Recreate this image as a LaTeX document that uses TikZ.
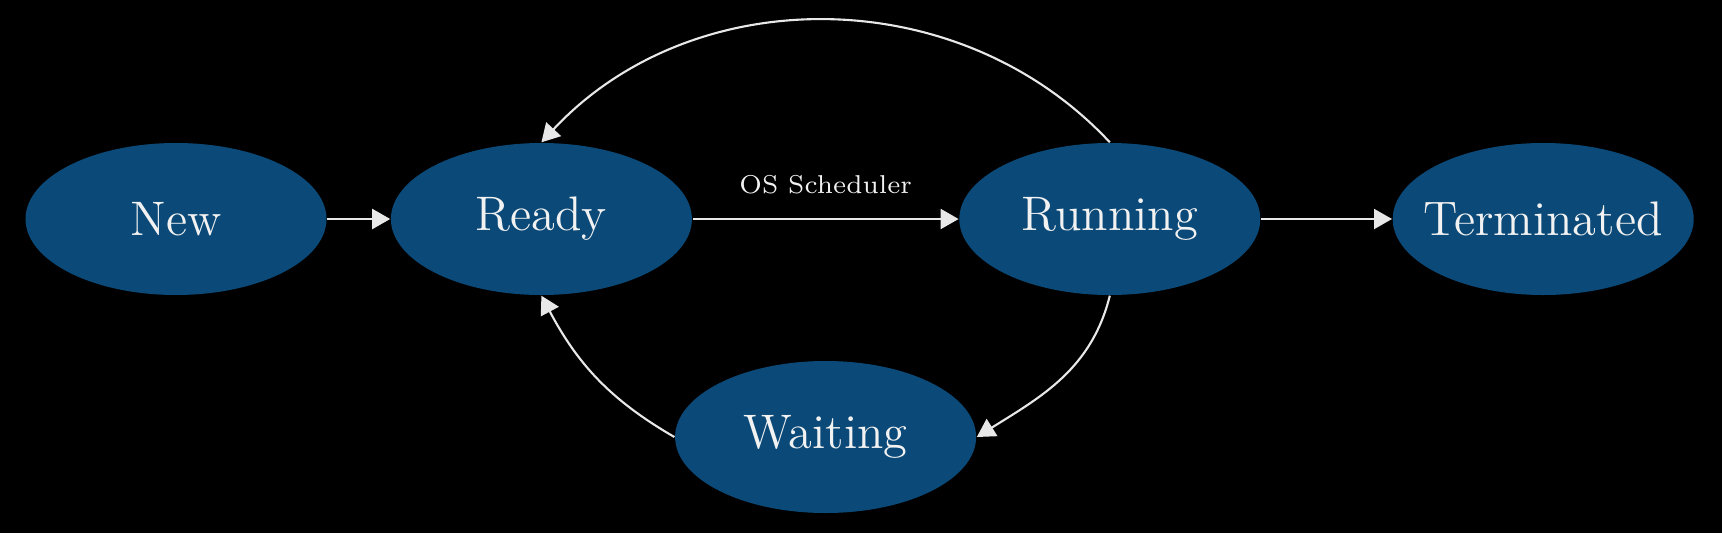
\documentclass[tikz,border=0pt]{standalone}
\usepackage{xcolor}
\usepackage{tikz}
\usetikzlibrary{arrows.meta,positioning,shapes.geometric,calc}
\definecolor{stateblue}{HTML}{0B4A78}
\definecolor{linegray}{HTML}{E8E8E8}

\begin{document}
\begin{tikzpicture}[node distance=6.3mm, every node/.style={text=white!95!black}, state/.style={ellipse, fill=stateblue, inner xsep=-3mm, inner ysep=0pt, minimum width=30.1mm, minimum height=15.2mm, font=\fontsize{13.8}{16}\selectfont}, arr/.style={-{Triangle[length=1.8mm,width=2mm]}, line width=0.6pt, linegray}]
\useasboundingbox (0,0) rectangle (17.22,5.33);
\fill[black] (0,0) rectangle (17.22,5.33);
\node[state] (new) at (1.76,3.14) {New};
\node[state,right=of new] (ready) {Ready};
\node[state,right=26.6mm of ready] (running) {Running};
\node[state,right=13.1mm of running] (terminated) {Terminated};
\node[state] (waiting) at ($(ready)!0.5!(running)+(0,-2.18)$) {Waiting};
\draw[arr] (new)--(ready);
\draw[arr] (ready)--node[above=2.4mm, inner sep=0pt, font=\fontsize{7.35}{9}\selectfont]{OS Scheduler}(running);
\draw[arr] (running)--(terminated);
\draw[arr] (running.north) to[out=133,in=47] (ready.north);
\draw[arr] (running.south) to[out=-104,in=32] (waiting.east);
\draw[arr] (waiting.west) to[out=150,in=-62] (ready.south);
\end{tikzpicture}
\end{document}
